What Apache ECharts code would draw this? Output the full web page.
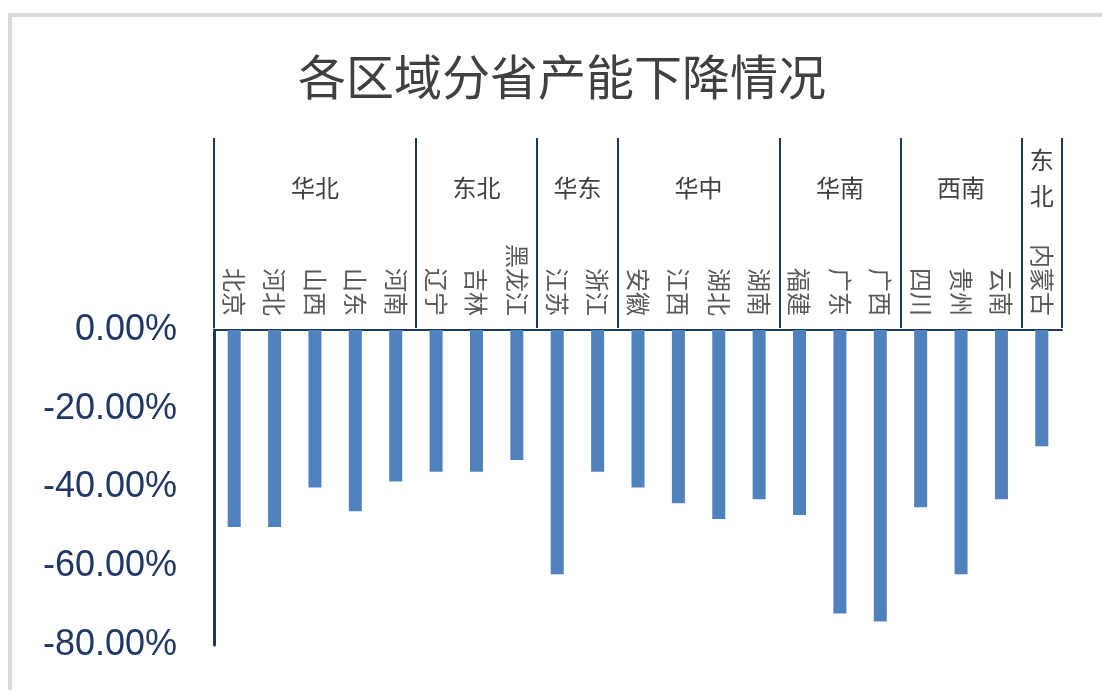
<!DOCTYPE html>
<html>
<head>
<meta charset="utf-8">
<script src="https://cdn.jsdelivr.net/npm/echarts@6/dist/echarts.min.js"></script>
<style>html,body{margin:0;padding:0;background:#fff;}#c{width:1102px;height:690px;}</style>
</head>
<body>
<div id="c"></div>
<script>
const provinces = ['北京','河北','山西','山东','河南','辽宁','吉林','黑龙江','江苏','浙江','安徽','江西','湖北','湖南','福建','广东','广西','四川','贵州','云南','内蒙古'];
const declines = [-50, -50, -40, -46, -38.5, -36, -36, -33, -62, -36, -40, -44, -48, -43, -47, -72, -74, -45, -62, -43, -29.5];
const regions = ['华北','东北','华东','华中','华南','西南','东\n北'];
const regionSizes = [5, 3, 2, 4, 3, 3, 1];
const yTicks = { min: -80, max: 0, interval: 20 };

const NAVY = '#1F3864';
const CJK = '"Noto Sans CJK SC", sans-serif';

// group boundaries from sizes
const bounds = [0];
regionSizes.forEach(s => bounds.push(bounds[bounds.length - 1] + s));

const areaData = regions.map((r, i) => {
  const narrow = regionSizes[i] === 1;
  return [
    { name: r, xAxis: bounds[i],
      label: narrow ? { distance: 4, lineHeight: 36 } : { distance: 38 } },
    { xAxis: bounds[i + 1] }
  ];
});

const chart = echarts.init(document.getElementById('c'), null, { renderer: 'canvas' });
chart.setOption({
  backgroundColor: '#fff',
  animation: false,
  title: {
    text: '各区域分省产能下降情况',
    left: 293, top: 48,
    textStyle: { fontFamily: CJK, fontSize: 48, fontWeight: 'normal', color: '#404040' }
  },
  graphic: [{
    type: 'rect', silent: true,
    shape: { x: 10, y: 15, width: 1200, height: 800 },
    style: { fill: 'none', stroke: '#d9d9d9', lineWidth: 4 }
  }],
  grid: [
    { left: 214, right: 40, top: 330, bottom: 45 },
    { left: 214, right: 40, top: 138, bottom: 362 }
  ],
  xAxis: [
    {
      type: 'category', gridIndex: 0, data: provinces, position: 'top',
      axisLine: { onZero: false, lineStyle: { color: NAVY, width: 2 } },
      axisTick: { show: false },
      axisLabel: { rotate: 90, margin: 14, interval: 0, fontFamily: CJK, fontSize: 24, color: '#595959' }
    },
    {
      type: 'value', gridIndex: 1, min: 0, max: provinces.length,
      show: false
    }
  ],
  yAxis: [
    {
      type: 'value', gridIndex: 0, min: yTicks.min, max: yTicks.max, interval: yTicks.interval,
      axisLine: { show: true, lineStyle: { color: NAVY, width: 3 } },
      axisTick: { show: false },
      splitLine: { show: false },
      axisLabel: {
        margin: 37, fontFamily: '"Liberation Sans", Arial, sans-serif', fontSize: 36, color: NAVY,
        formatter: v => v.toFixed(2) + '%'
      }
    },
    { type: 'value', gridIndex: 1, min: 0, max: 1, show: false }
  ],
  series: [
    {
      type: 'bar', xAxisIndex: 0, yAxisIndex: 0, data: declines,
      barWidth: 13,
      itemStyle: { color: '#4F81BD' }
    },
    {
      type: 'scatter', xAxisIndex: 1, yAxisIndex: 1, data: [[0, 0]], symbolSize: 0,
      silent: true,
      markLine: {
        silent: true, symbol: 'none',
        label: { show: false },
        lineStyle: { type: 'solid', color: NAVY, width: 2 },
        data: bounds.map(b => ({ xAxis: b }))
      },
      markArea: {
        silent: true,
        itemStyle: { color: 'rgba(0,0,0,0)' },
        label: { show: true, position: 'insideTop', fontFamily: CJK, fontSize: 24, color: '#404040' },
        data: areaData
      }
    }
  ]
});
</script>
</body>
</html>
